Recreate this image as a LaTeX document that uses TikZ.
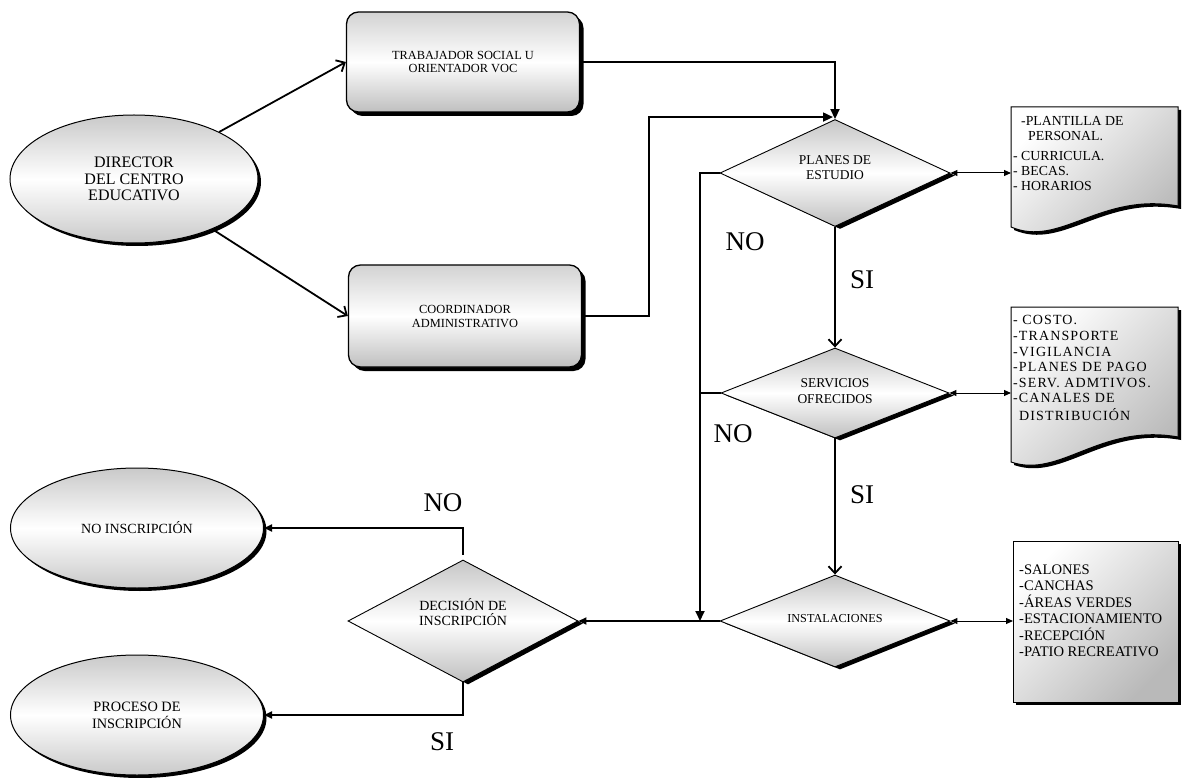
\documentclass[tikz,border=0pt]{standalone}
\usepackage{fontspec}
\setmainfont{Liberation Serif}
\usetikzlibrary{shapes.geometric,shadows,arrows.meta}
\tikzset{
  conn/.style={line width=1.8pt},
  barb/.style={-{Straight Barb[length=7pt,width=13pt]}},
  tri/.style={-{Triangle[length=10pt,width=9pt]}},
  smalltri/.style={-{Triangle[length=8pt,width=7pt]}},
  dbl/.style={line width=1pt,{Triangle[length=7pt,width=6pt]}-{Triangle[length=7pt,width=6pt]}},
  blackshadow/.style={drop shadow={shadow xshift=#1,shadow yshift=-#1,fill=black,opacity=1}},
  oval/.style={ellipse, draw, line width=1pt, inner sep=0pt,
    top color=gray!42, bottom color=gray!42, middle color=white, blackshadow=3pt},
  rbox/.style={rectangle, rounded corners=12pt, draw, line width=1.3pt, inner sep=0pt,
    minimum width=233pt, minimum height=100pt,
    top color=gray!35, bottom color=gray!50, middle color=white, blackshadow=4pt},
  dia/.style={diamond, draw, line width=0.9pt, inner sep=0pt,
    top color=gray!45, bottom color=gray!50, middle color=white,
    drop shadow={shadow xshift=5pt,shadow yshift=-2.5pt,fill=black,opacity=1}},
  docfill/.style={draw, line width=1pt, top color=white, bottom color=gray!55, shading angle=45,
    drop shadow={shadow xshift=3pt,shadow yshift=-3pt,fill=black,opacity=1}},
  boxtext/.style={align=left, inner sep=0pt, anchor=north west},
  lbl/.style={font=\fontsize{27}{30}\selectfont, inner sep=0pt},
}
\begin{document}
\begin{tikzpicture}[x=1pt,y=-1pt]
\useasboundingbox (0,0) rectangle (1184,778);

% left ellipses
\node[oval, minimum width=248pt, minimum height=128pt, align=center,
  font=\fontsize{16}{16.5}\selectfont] (dir) at (134,179) {DIRECTOR\\DEL CENTRO\\EDUCATIVO};
\node[oval, minimum width=253pt, minimum height=120pt,
  font=\fontsize{14}{16}\selectfont] (noinsc) at (137,528) {NO INSCRIPCIÓN};
\node[oval, minimum width=253pt, minimum height=120pt, align=center,
  font=\fontsize{14.3}{17}\selectfont] (proc) at (137,715) {PROCESO DE\\INSCRIPCIÓN};

% rounded rectangles
\node[rbox, align=center, font=\fontsize{12.4}{13.5}\selectfont] (trab) at (463,62)
  {TRABAJADOR SOCIAL U\\ORIENTADOR VOC};
\node[rbox, minimum height=102pt, align=center, font=\fontsize{12.4}{14}\selectfont] (coord) at (465,316)
  {COORDINADOR\\ADMINISTRATIVO};

% diamonds
\node[dia, minimum width=230pt, minimum height=107pt] (planes) at (835,173) {};
\node[align=center, font=\fontsize{13.5}{15}\selectfont] (planesT) at ([yshift=5.5pt]planes.center) {PLANES DE\\ESTUDIO};
\node[dia, minimum width=228pt, minimum height=90pt] (serv) at (835,393) {};
\node[align=center, font=\fontsize{13.5}{16}\selectfont] (servT) at ([yshift=2pt]serv.center) {SERVICIOS\\OFRECIDOS};
\node[dia, minimum width=230pt, minimum height=92pt] (inst) at (835,621) {};
\node[font=\fontsize{12.2}{14}\selectfont] (instT) at ([yshift=2pt]inst.center) {INSTALACIONES};
\node[dia, minimum width=230pt, minimum height=122pt] (dec) at (463,621) {};
\node[align=center, font=\fontsize{14}{15}\selectfont] (decT) at ([yshift=9pt]dec.center) {DECISIÓN DE\\INSCRIPCIÓN};

% document boxes
\path[docfill] (1011,107) -- (1178,107) -- (1178,206)
  .. controls (1100,192) and (1060,248) .. (1011,227) -- cycle;
\path[docfill] (1011,307) -- (1178,307) -- (1178,437)
  .. controls (1100,423) and (1060,479) .. (1011,462) -- cycle;
\path[docfill] (1013,541) rectangle (1178,702);
\coordinate (b1w) at (1011,173);
\coordinate (b2w) at (1011,393);
\coordinate (b3w) at (1013,621);

\node[boxtext, font=\fontsize{13.8}{15}\selectfont] (b1t) at (1013,116.5)
  {\hspace*{8pt}-PLANTILLA DE\\\hspace*{15pt}PERSONAL.\\[5pt]- CURRICULA.\\- BECAS.\\- HORARIOS};
\node[boxtext, font=\fontsize{14}{15.6}\selectfont\addfontfeature{LetterSpace=8}] (b2t) at (1013,315.5)
  {- COSTO.\\-TRANSPORTE\\-VIGILANCIA\\-PLANES DE PAGO\\-SERV. ADMTIVOS.\\-CANALES DE\\[2pt]\hspace*{6pt}DISTRIBUCIÓN};
\node[boxtext, font=\fontsize{14.6}{16.5}\selectfont] (b3t) at (1019,564.5)
  {-SALONES\\-CANCHAS\\-ÁREAS VERDES\\-ESTACIONAMIENTO\\-RECEPCIÓN\\-PATIO RECREATIVO};

% connectors
\draw[conn,barb] (dir) -- (trab.west);
\draw[conn,barb] (dir) -- (coord.west);
\draw[conn,tri] (trab.east) -| (planes.north);
\draw[conn,tri] (coord.east) -- ++(67,0) |- ([xshift=-2pt,yshift=2pt]planes.north);
\coordinate (jn) at (700,621);
\draw[conn,tri] (planes.west) -| (jn);
\draw[conn] (serv.west) -- (serv.west -| jn);
\draw[conn,smalltri] (inst.west) -- (dec.east);
\draw[conn,barb] (planes.south) -- (serv.north);
\draw[conn,barb] (serv.south) -- (inst.north);
\draw[conn,smalltri] ([yshift=5pt]dec.north) |- (noinsc.east);
\draw[conn,smalltri] (dec.south) |- (proc.east);
\draw[dbl] (planes.east) -- (b1w);
\draw[dbl] (serv.east) -- (b2w);
\draw[dbl] (inst.east) -- (b3w);

% labels
\node[lbl] (no1) at (745,242) {NO};
\node[lbl] (si1) at (862,280) {SI};
\node[lbl] (no2) at (733,434) {NO};
\node[lbl] (si2) at (862,495) {SI};
\node[lbl] (no3) at (443,503) {NO};
\node[lbl] (si3) at (442,742) {SI};
\end{tikzpicture}
\end{document}
